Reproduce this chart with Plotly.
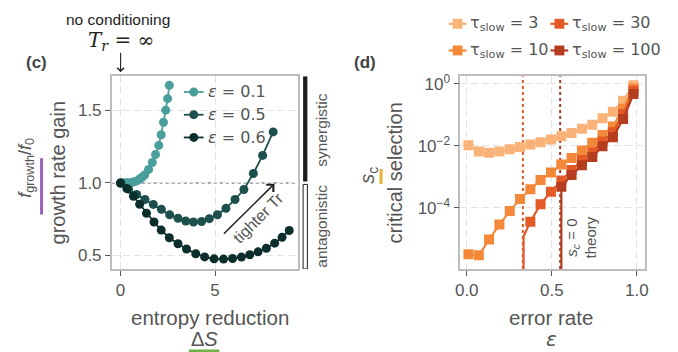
import plotly.graph_objects as go

# ---------------- panel (c): growth rate gain vs entropy reduction ----------------
dS_e01 = [0, 0.12, 0.23, 0.35, 0.49, 0.62, 0.75, 0.88, 1.01, 1.14, 1.27, 1.48, 1.68, 1.85,
          2.02, 2.15, 2.27, 2.39, 2.49, 2.58]
gain_e01 = [1.0, 1.0, 1.0, 1.001, 1.002, 1.005, 1.009, 1.016, 1.027, 1.04, 1.055, 1.093, 1.141,
            1.196, 1.259, 1.332, 1.418, 1.502, 1.581, 1.673]

dS_e05 = [0, 0.42, 0.85, 1.29, 1.73, 2.16, 2.60, 3.04, 3.45, 3.86, 4.29, 4.70, 5.13, 5.58,
          6.06, 6.53, 7.03, 7.52, 8.08]
gain_e05 = [1.0, 0.957, 0.920, 0.886, 0.852, 0.818, 0.780, 0.757, 0.738, 0.731, 0.734, 0.754,
            0.781, 0.825, 0.886, 0.955, 1.065, 1.19, 1.352]

dS_e06 = [0, 0.33, 0.68, 1.01, 1.37, 1.77, 2.15, 2.58, 3.04, 3.49, 3.98, 4.45, 4.95, 5.45,
          5.93, 6.40, 6.84, 7.28, 7.72, 8.16, 8.55, 8.93]
gain_e06 = [1.0, 0.961, 0.908, 0.853, 0.791, 0.731, 0.675, 0.622, 0.581, 0.545, 0.512, 0.49,
            0.477, 0.475, 0.479, 0.489, 0.505, 0.525, 0.55, 0.585, 0.625, 0.672]

gain_labels = ["<i>ε</i> = 0.1", "<i>ε</i> = 0.5", "<i>ε</i> = 0.6"]
gain_colors = ["#4a9e9b", "#1d4f4c", "#0b2d2b"]
gain_data = [(dS_e01, gain_e01), (dS_e05, gain_e05), (dS_e06, gain_e06)]

# ---------------- panel (d): critical selection vs error rate ----------------
error_rate = [0.01, 0.071, 0.131, 0.192, 0.253, 0.313, 0.374, 0.434, 0.495, 0.556, 0.616,
              0.677, 0.738, 0.798, 0.859, 0.919, 0.98]

sc_tau3 = [1.05e-2, 6.6e-3, 6.0e-3, 6.6e-3, 7.8e-3, 9.3e-3, 1.12e-2, 1.32e-2, 1.62e-2, 2.04e-2,
           2.63e-2, 3.55e-2, 4.79e-2, 7.76e-2, 0.126, 0.288, 0.912]
sc_tau10 = [3.2e-6, 2.95e-6, 9.5e-6, 2.9e-5, 7.9e-5, 1.95e-4, 4.0e-4, 7.9e-4, 1.38e-3, 2.5e-3,
            4.1e-3, 7.1e-3, 1.26e-2, 2.24e-2, 4.2e-2, 0.158, 0.71]
# slower memories only have a finite s_c above an onset error rate
sc_tau30 = [3.6e-5, 1.32e-4, 3.3e-4, 7.6e-4, 1.66e-3, 3.5e-3, 6.3e-3, 1.38e-2, 2.75e-2, 0.107, 0.60]
sc_tau100 = [4.8e-4, 1.15e-3, 2.4e-3, 4.4e-3, 9.8e-3, 1.9e-2, 7.4e-2, 0.47]

onset_tau30 = (0.334, 1.2e-5)     # (error rate, s_c) where the tau=30 curve starts
onset_tau100 = (0.556, 4.8e-4)
theory_eps_c = [(0.330, "#e35a26"), (0.549, "#a83a22")]  # s_c = 0 theory lines
SC_ZERO = 1e-12  # stands in for s_c = 0 on the log axis

tau_labels = ["τ<sub>slow</sub> = 3", "τ<sub>slow</sub> = 10",
              "τ<sub>slow</sub> = 30", "τ<sub>slow</sub> = 100"]
tau_colors = ["#f9b277", "#f38839", "#e35a26", "#b53c1f"]

TXT = "#555555"
DARK = "#222222"
SANS = "Liberation Sans, Arial, sans-serif"
MATH = "DejaVu Sans, sans-serif"
W, H = 678, 352


def px(x):
    return x / W


def py(y):
    return 1 - y / H


fig = go.Figure()

for (xs, ys), col in zip(gain_data, gain_colors):
    fig.add_trace(go.Scatter(
        x=xs, y=ys, mode="lines+markers", showlegend=False,
        line=dict(color=col, width=1.8),
        marker=dict(color=col, size=9, symbol="circle", opacity=1, line=dict(width=0)),
        xaxis="x", yaxis="y", cliponaxis=False))

n = len(error_rate)
tau_data = [
    (error_rate, sc_tau3, [10] * n),
    (error_rate, sc_tau10, [10] * n),
    ([onset_tau30[0], onset_tau30[0]] + error_rate[n - len(sc_tau30):],
     [SC_ZERO, onset_tau30[1]] + sc_tau30, [0, 0] + [10] * len(sc_tau30)),
    ([onset_tau100[0]] + error_rate[n - len(sc_tau100):],
     [SC_ZERO] + sc_tau100, [0] + [10] * len(sc_tau100)),
]
for (xs, ys, sizes), col in zip(tau_data, tau_colors):
    fig.add_trace(go.Scatter(
        x=xs, y=ys, mode="lines+markers", showlegend=False,
        line=dict(color=col, width=2.2),
        marker=dict(color=col, size=sizes, symbol="square", opacity=1, line=dict(width=0)),
        xaxis="x2", yaxis="y2"))

axis_common = dict(
    showline=True, mirror=True, linecolor="#bdbdbd", linewidth=1.5,
    showgrid=True, gridcolor="#e3e3e3", gridwidth=1.4, griddash="7px,4px",
    ticks="outside", ticklen=5, tickwidth=1.2, tickcolor="#555555",
    tickfont=dict(family=SANS, size=17, color=TXT), zeroline=False,
)

fig.update_layout(
    width=W, height=H, margin=dict(l=0, r=0, t=0, b=0),
    paper_bgcolor="white", plot_bgcolor="white", showlegend=False,
    xaxis=dict(domain=[0.1593, 0.4366], range=[-0.47, 9.37],
               tickvals=[0, 5], ticktext=["0", "5"], **axis_common),
    yaxis=dict(domain=[0.2386, 0.7926], range=[0.407, 1.736],
               tickvals=[0.5, 1.0, 1.5], ticktext=["0.5", "1.0", "1.5"], **axis_common),
    xaxis2=dict(domain=[0.6795, 0.9558], range=[-0.038, 1.05], anchor="y2",
                tickvals=[0, 0.5, 1.0], ticktext=["0.0", "0.5", "1.0"], **axis_common),
    yaxis2=dict(domain=[0.2386, 0.7926], type="log", range=[-5.97, 0.25], anchor="x2",
                tickvals=[1, 1e-2, 1e-4],
                ticktext=["10<sup>0</sup>", "10<sup>−2</sup>", "10<sup>−4</sup>"],
                **axis_common),
)

shapes = []
# neutral line (gain = 1)
shapes.append(dict(type="line", xref="x domain", yref="y", x0=0, x1=1, y0=1.0, y1=1.0,
                   line=dict(color="#8a8a8a", width=1.6, dash="dot"), layer="below"))
# synergistic / antagonistic bars
shapes.append(dict(type="rect", xref="x domain", yref="y", x0=1.03, x1=1.053, y0=1.01, y1=1.736,
                   fillcolor="#1c1c1c", line=dict(width=0)))
shapes.append(dict(type="rect", xref="x domain", yref="y", x0=1.03, x1=1.053, y0=0.407, y1=0.99,
                   fillcolor="white", line=dict(color="#1c1c1c", width=1)))
# theory onset lines
for ec, col in theory_eps_c:
    shapes.append(dict(type="line", xref="x2", yref="y2 domain", x0=ec, x1=ec, y0=0, y1=1,
                       line=dict(color=col, width=2, dash="dot"), layer="below"))
# coloured marks next to the axis symbols
shapes.append(dict(type="line", xref="paper", yref="paper", x0=px(37), x1=px(37),
                   y0=py(156), y1=py(213), line=dict(color="#9b63b3", width=3)))
shapes.append(dict(type="line", xref="paper", yref="paper", x0=px(186), x1=px(217),
                   y0=py(351), y1=py(351), line=dict(color="#6db34a", width=3)))
shapes.append(dict(type="line", xref="paper", yref="paper", x0=px(380.5), x1=px(380.5),
                   y0=py(167), y1=py(182), line=dict(color="#e6b233", width=3)))


def ann(text, x, y, size=15, color=TXT, family=SANS, angle=0, xanchor="center"):
    fig.add_annotation(text=text, x=px(x), y=py(y), xref="paper", yref="paper",
                       showarrow=False, font=dict(family=family, size=size, color=color),
                       textangle=angle, xanchor=xanchor, yanchor="middle")


# legend of panel (c): line + circle sample, then label
for i, (lab, col) in enumerate(zip(gain_labels, gain_colors)):
    yy = 89 + 23 * i
    shapes.append(dict(type="line", xref="paper", yref="paper", x0=px(181), x1=px(201),
                       y0=py(yy), y1=py(yy), line=dict(color=col, width=1.8)))
    shapes.append(dict(type="circle", xref="paper", yref="paper", x0=px(186.5), x1=px(195.5),
                       y0=py(yy + 4.5), y1=py(yy - 4.5), fillcolor=col, line=dict(width=0)))
    ann(lab, 203, yy, size=16, family=MATH, xanchor="left")

# legend of panel (d): two columns (3, 30 / 10, 100)
legend_slots = [(449, 20), (449, 47), (552, 20), (552, 47)]
for (lx, ly), lab, col in zip(legend_slots, tau_labels, tau_colors):
    shapes.append(dict(type="line", xref="paper", yref="paper", x0=px(lx), x1=px(lx + 18),
                       y0=py(ly), y1=py(ly), line=dict(color=col, width=2.2)))
    shapes.append(dict(type="rect", xref="paper", yref="paper", x0=px(lx + 4), x1=px(lx + 14),
                       y0=py(ly + 5), y1=py(ly - 5), fillcolor=col, line=dict(width=0)))
    ann(lab, lx + 20, ly, size=16, family=MATH, xanchor="left")

fig.update_layout(shapes=shapes)

ann("<b>(c)</b>", 32, 59, size=17, color="#444444")
ann("<b>(d)</b>", 364, 59, size=17, color="#444444")
ann("no conditioning", 114, 16, size=15.5, color=DARK)
ann("<i>T<sub>r</sub></i> = ∞", 117, 37, size=20, color=DARK, family="DejaVu Serif, serif")

ann("<i>f</i><sub>growth</sub>/<i>f</i><sub>0</sub>", 21, 166, size=18, angle=-90)
ann("growth rate gain", 54, 171, size=20, angle=-90)
ann("entropy reduction", 207, 317, size=20.5)
ann("Δ<i>S</i>", 202, 339, size=20)

ann("<i>s</i><sub>c</sub>", 367, 173, size=20, angle=-90)
ann("critical selection", 395, 171, size=20, angle=-90)
ann("error rate", 553, 317, size=20.5)
ann("<i>ε</i>", 553, 339, size=20, family=MATH)

ann("synergistic", 320, 128, size=15.5, angle=-90)
ann("antagonistic", 320, 225, size=15.5, angle=-90)
ann("<i>s<sub>c</sub></i> = 0<br>theory", 583, 236, size=15, angle=-90)

# arrow pointing at the unconditioned case
fig.add_annotation(x=0, y=py(69), xref="x", yref="paper", ax=0, ay=-21,
                   text="", showarrow=True, arrowhead=4, arrowsize=1.2, arrowwidth=1.1,
                   arrowcolor=DARK)
# tighter Tr arrow
fig.add_annotation(x=8.15, y=0.995, xref="x", yref="y", ax=5.39, ay=0.639,
                   axref="x", ayref="y", text="", showarrow=True, arrowhead=4,
                   arrowsize=1.3, arrowwidth=1.5, arrowcolor=DARK)
fig.add_annotation(x=7.3, y=0.765, xref="x", yref="y", text="tighter Tr", showarrow=False,
                   textangle=-45, font=dict(family=SANS, size=16, color=TXT))

fig.write_html("out.html")
